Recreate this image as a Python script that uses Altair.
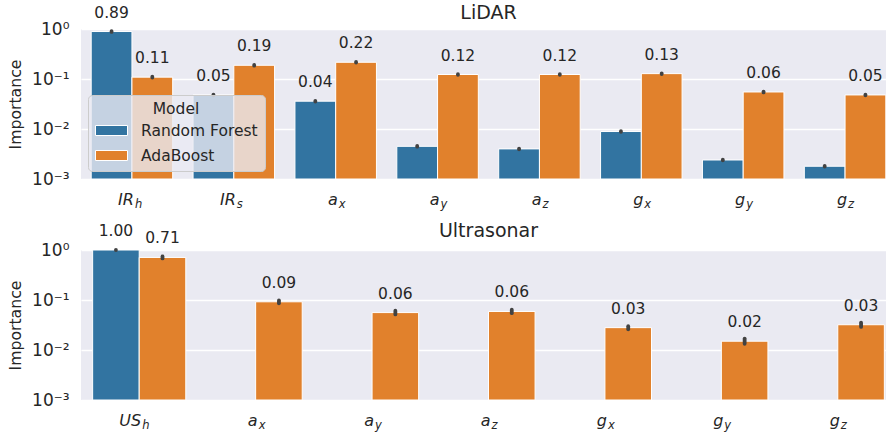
import altair as alt
import pandas as pd

# ---------------- data ----------------
models = ["Random Forest", "AdaBoost"]
colors = ["#3274A1", "#E1812C"]

lidar_main = ["IR", "IR", "a", "a", "a", "g", "g", "g"]
lidar_sub = ["h", "s", "x", "y", "z", "x", "y", "z"]
lidar_rf = [0.89, 0.048, 0.036, 0.0045, 0.0040, 0.0089, 0.0024, 0.0018]
lidar_ab = [0.109, 0.188, 0.216, 0.123, 0.123, 0.128, 0.055, 0.048]
lidar_rf_lo = [0.875, 0.0472, 0.0355, 0.00443, 0.00394, 0.00876, 0.00236, 0.00177]
lidar_rf_hi = [0.905, 0.0488, 0.0365, 0.00457, 0.00406, 0.00904, 0.00244, 0.00183]
lidar_ab_lo = [0.107, 0.185, 0.213, 0.121, 0.121, 0.126, 0.054, 0.0472]
lidar_ab_hi = [0.111, 0.191, 0.219, 0.125, 0.125, 0.130, 0.056, 0.0488]
lidar_rf_lab = ["0.89", "0.05", "0.04", "", "", "", "", ""]
lidar_ab_lab = ["0.11", "0.19", "0.22", "0.12", "0.12", "0.13", "0.06", "0.05"]

ultra_main = ["US", "a", "a", "a", "g", "g", "g"]
ultra_sub = ["h", "x", "y", "z", "x", "y", "z"]
ultra_rf = [1.0, 0, 0, 0, 0, 0, 0]
ultra_ab = [0.71, 0.092, 0.056, 0.059, 0.028, 0.015, 0.032]
ultra_rf_lo = [0.995, 0, 0, 0, 0, 0, 0]
ultra_rf_hi = [1.0, 0, 0, 0, 0, 0, 0]
ultra_ab_lo = [0.678, 0.086, 0.0515, 0.0545, 0.026, 0.0133, 0.029]
ultra_ab_hi = [0.743, 0.098, 0.061, 0.064, 0.030, 0.0169, 0.0354]
ultra_rf_lab = ["1.00", "", "", "", "", "", ""]
ultra_ab_lab = ["0.71", "0.09", "0.06", "0.06", "0.03", "0.02", "0.03"]

ytick_values = [1, 0.1, 0.01, 0.001]
ytick_labels = ["10⁰", "10⁻¹", "10⁻²", "10⁻³"]

FONT = "DejaVu Sans"
TXT = "#262626"


def make_frames(main, sub, rf, ab, rf_lo, rf_hi, ab_lo, ab_hi, rf_lab, ab_lab):
    feats = [m + "_" + s for m, s in zip(main, sub)]
    rows = []
    for i, f in enumerate(feats):
        rows.append(dict(feature=f, model=models[0], value=rf[i], lo=rf_lo[i], hi=rf_hi[i], label=rf_lab[i]))
        rows.append(dict(feature=f, model=models[1], value=ab[i], lo=ab_lo[i], hi=ab_hi[i], label=ab_lab[i]))
    feat_df = pd.DataFrame(dict(feature=feats, main=main, sub=sub))
    return pd.DataFrame(rows), feat_df, feats


label_expr = "[" + ",".join("'" + t + "'" for t in ytick_labels) + "][round(-log(datum.value)/LN10)]"


def panel(df, feat_df, feats, title, show_legend):
    H = 150
    x = alt.X("feature:N", sort=feats,
              scale=alt.Scale(paddingInner=0.2, paddingOuter=0.1),
              axis=alt.Axis(labels=False, ticks=False, domain=False, title=None, grid=False))
    xoff = alt.XOffset("model:N", sort=models,
                       scale=alt.Scale(domain=models, paddingInner=0, paddingOuter=0))
    yscale = alt.Scale(type="log", domain=[0.001, 1], nice=False)
    yaxis = alt.Axis(values=ytick_values, labelExpr=label_expr, title="Importance",
                     grid=True, gridColor="white", gridWidth=1.3, domain=False, ticks=False,
                     labelPadding=12, labelFontSize=17, labelColor=TXT, titleColor=TXT,
                     titleFontSize=15.7, titleFontWeight="normal", titlePadding=8)
    if show_legend:
        legend = alt.Legend(orient="none", legendX=7, legendY=66, title="Model",
                            titleFontSize=15.5, titleFontWeight="normal", titleColor=TXT,
                            titleAnchor="middle", titleAlign="center",
                            labelFontSize=15.5, labelColor=TXT,
                            symbolType="M-1.0,-0.667H3.267V0.667H-1.0Z", symbolSize=225,
                            symbolStrokeColor="white", symbolStrokeWidth=1, symbolOpacity=1,
                            labelOffset=30, rowPadding=8, padding=7,
                            fillColor="rgba(234,234,242,0.8)", strokeColor="#CCCCCC",
                            cornerRadius=4, offset=0)
    else:
        legend = None
    color = alt.Color("model:N", sort=models, scale=alt.Scale(domain=models, range=colors), legend=legend)

    base = alt.Chart(df).transform_filter("datum.value > 0")
    bars = base.mark_bar(stroke="white", strokeWidth=1).encode(
        x=x, xOffset=xoff,
        y=alt.Y("value:Q", scale=yscale, axis=yaxis),
        y2=alt.datum(0.001),
        color=color,
    )
    err = base.mark_rule(strokeWidth=3.8, strokeCap="round", color="#424242").encode(
        x=x, xOffset=xoff, y="lo:Q", y2="hi:Q")
    txt = base.transform_filter("datum.label != ''").mark_text(
        dy=-14, baseline="alphabetic", fontSize=15.5, color=TXT, font=FONT).encode(
        x=x, xOffset=xoff, y="value:Q", text="label:N")
    xmain = alt.Chart(feat_df).mark_text(
        align="right", dx=2, baseline="alphabetic", fontSize=16, fontStyle="italic",
        color=TXT, font=FONT).encode(x=x, y=alt.value(H + 26), text="main:N")
    xsub = alt.Chart(feat_df).mark_text(
        align="left", dx=3, baseline="alphabetic", fontSize=11.5, fontStyle="italic",
        color=TXT, font=FONT).encode(x=x, y=alt.value(H + 29), text="sub:N")
    return alt.layer(bars, err, txt, xmain, xsub).properties(
        width=815, height=H,
        title=alt.TitleParams(title, fontSize=19, fontWeight="normal", color=TXT, offset=0,
                              dy=17, font=FONT))


ldf, lfeat, lfeats = make_frames(lidar_main, lidar_sub, lidar_rf, lidar_ab, lidar_rf_lo, lidar_rf_hi,
                                 lidar_ab_lo, lidar_ab_hi, lidar_rf_lab, lidar_ab_lab)
udf, ufeat, ufeats = make_frames(ultra_main, ultra_sub, ultra_rf, ultra_ab, ultra_rf_lo, ultra_rf_hi,
                                 ultra_ab_lo, ultra_ab_hi, ultra_rf_lab, ultra_ab_lab)

top = panel(ldf, lfeat, lfeats, "LiDAR", True)
bottom = panel(udf, ufeat, ufeats, "Ultrasonar", False)

chart = alt.vconcat(top, bottom, spacing=11).resolve_scale(
    color="independent", x="independent", xOffset="independent"
).configure(
    font=FONT, background="white", padding={"left": 7, "top": 3, "right": -10, "bottom": 0}
).configure_view(fill="#EAEAF2", stroke=None)

chart.save("out.html", embed_options={"renderer": "svg", "actions": False})
